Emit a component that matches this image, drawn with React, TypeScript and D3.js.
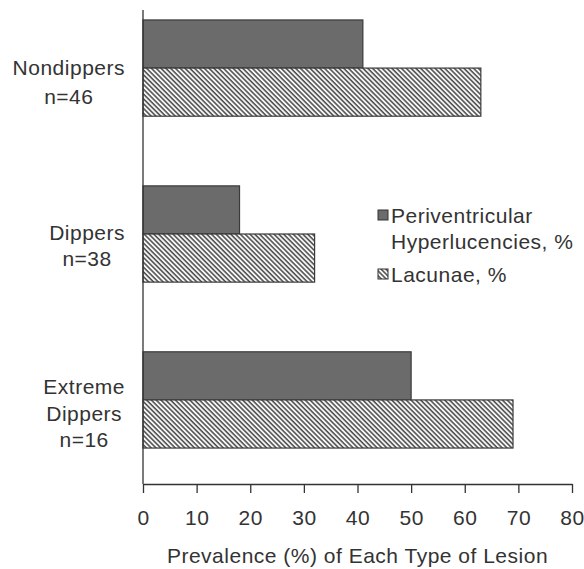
import React, { useEffect, useRef } from 'react';
import * as d3 from 'd3';

const groups = ['Nondippers', 'Dippers', 'Extreme'];
const groupLabels = [['Nondippers', 'n=46'], ['Dippers', 'n=38'], ['Extreme', 'Dippers', 'n=16']];
const seriesNames = ['Periventricular Hyperlucencies, %', 'Lacunae, %'];
const periventricular = [41, 18, 50];
const lacunae = [63, 32, 69];
const xTicks = [0, 10, 20, 30, 40, 50, 60, 70, 80];

const FONT = '"Liberation Sans", Arial, sans-serif';
const FS = '21px';
const LS = '0.5px';

export default function App() {
  const svgRef = useRef<SVGSVGElement>(null);

  useEffect(() => {
    if (!svgRef.current) return;
    const W = 584, H = 569;
    const left = 143, right = 572, top = 10, bottom = 484;

    d3.select(svgRef.current).selectAll('*').remove();
    const svg = d3.select(svgRef.current).attr('width', W).attr('height', H);

    // hatch pattern for lacunae
    const defs = svg.append('defs');
    const pat = defs.append('pattern')
      .attr('id', 'hatch')
      .attr('patternUnits', 'userSpaceOnUse')
      .attr('width', 3.4)
      .attr('height', 3.4)
      .attr('patternTransform', 'rotate(-45)');
    pat.append('rect').attr('width', 3.4).attr('height', 3.4).attr('fill', '#fff');
    pat.append('line')
      .attr('x1', 1).attr('y1', 0).attr('x2', 1).attr('y2', 3.4)
      .attr('stroke', '#4a4a4a').attr('stroke-width', 1.6);

    const x = d3.scaleLinear().domain([0, 80]).range([left, right]);
    const y = d3.scaleBand<string>().domain(groups).range([top, 458])
      .paddingInner(0.42).paddingOuter(0.06);
    const ySub = d3.scaleBand<string>().domain(seriesNames).range([0, y.bandwidth()]);

    const rows = groups.map((g, i) => ({ g, vals: [periventricular[i], lacunae[i]] }));
    const fills = ['#6b6b6b', 'url(#hatch)'];

    // Bars
    rows.forEach(r => {
      r.vals.forEach((v, j) => {
        svg.append('rect')
          .attr('x', x(0))
          .attr('y', (y(r.g) as number) + (ySub(seriesNames[j]) as number))
          .attr('width', x(v) - x(0))
          .attr('height', ySub.bandwidth())
          .attr('fill', fills[j])
          .attr('stroke', '#3a3a3a')
          .attr('stroke-width', 1.2);
      });
    });

    // Axes
    svg.append('line')
      .attr('x1', left).attr('x2', left).attr('y1', top).attr('y2', bottom)
      .attr('stroke', '#333').attr('stroke-width', 1.3);

    const xAxis = svg.append('g')
      .attr('transform', `translate(0,${bottom})`)
      .call(d3.axisBottom(x).tickValues(xTicks).tickSize(9).tickPadding(17).tickSizeOuter(0));
    xAxis.select('.domain').attr('stroke', '#333').attr('stroke-width', 1.3);
    xAxis.selectAll('.tick line').attr('stroke', '#333').attr('stroke-width', 1.3);
    xAxis.selectAll('.tick text')
      .attr('fill', '#333')
      .style('font-family', FONT)
      .style('font-size', FS)
      .style('letter-spacing', LS);

    // x title
    svg.append('text')
      .attr('x', (left + right) / 2)
      .attr('y', 563)
      .attr('text-anchor', 'middle')
      .attr('fill', '#333')
      .style('font-family', FONT)
      .style('font-size', FS)
      .style('letter-spacing', LS)
      .text('Prevalence (%) of Each Type of Lesion');

    // Category labels, centred under the widest line, right edge ~125
    const baselines = [[75, 104], [240, 266], [394, 421, 447]];
    groupLabels.forEach((lines, i) => {
      const g = svg.append('g');
      const texts = lines.map((t, k) => g.append('text')
        .attr('y', baselines[i][k])
        .attr('text-anchor', 'middle')
        .attr('fill', '#333')
        .style('font-family', FONT)
        .style('font-size', FS)
        .style('letter-spacing', LS)
        .text(t));
      const wMax = d3.max(texts, t => (t.node() as SVGTextElement).getComputedTextLength()) || 0;
      texts.forEach(t => t.attr('x', 125 - wMax / 2));
    });

    // Legend
    const legend = svg.append('g');
    const legendItems = [
      { fill: fills[0], lines: ['Periventricular', 'Hyperlucencies, %'], y: 223 },
      { fill: fills[1], lines: ['Lacunae, %'], y: 282 }
    ];
    legendItems.forEach(it => {
      legend.append('rect')
        .attr('x', 378).attr('y', it.y - 13)
        .attr('width', 10).attr('height', 10)
        .attr('fill', it.fill)
        .attr('stroke', '#333').attr('stroke-width', 1);
      it.lines.forEach((l, k) => {
        legend.append('text')
          .attr('x', 391)
          .attr('y', it.y + k * 26)
          .attr('fill', '#333')
          .style('font-family', FONT)
          .style('font-size', FS)
          .style('letter-spacing', LS)
          .text(l);
      });
    });
  }, []);

  return <svg ref={svgRef} style={{ position: 'absolute', left: 0, top: 0, background: '#fff' }}></svg>;
}
